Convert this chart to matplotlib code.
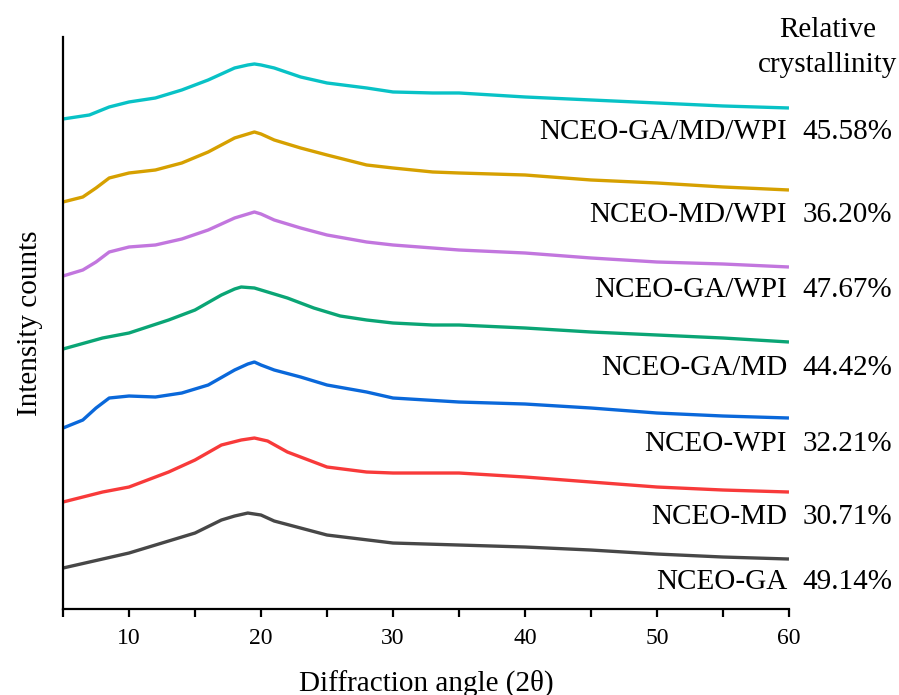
import numpy as np
import matplotlib
matplotlib.use("Agg")
import matplotlib.pyplot as plt
from matplotlib.ticker import MultipleLocator

plt.rcParams["font.family"] = ["Liberation Serif", "DejaVu Serif"]

# values (offset intensity, arbitrary units)
ga_x = [5, 10, 15, 17, 18, 19, 20, 21, 25, 30, 35, 40, 45, 50, 55, 60]
ga_y = [41, 56, 76, 89, 93, 96, 94, 88, 74, 66, 64, 62, 59, 55, 52, 50]

md_x = [5, 8, 10, 13, 15, 17, 18.5, 19.5, 20.5, 22, 25, 28, 30, 35, 40, 45, 50, 55, 60]
md_y = [107, 117, 122, 137, 149, 164, 169, 171, 168, 157, 142, 137, 136, 136, 132, 127, 122, 119, 117]

wpi_x = [5, 6.5, 7.5, 8.5, 10, 12, 14, 16, 18, 19, 19.5, 20, 21, 23, 25, 28, 30, 35, 40, 45, 50, 55, 60]
wpi_y = [181, 189, 201, 211, 213, 212, 216, 224, 239, 245, 247, 244, 239, 232, 224, 217, 211, 207, 205, 201, 196, 193, 191]

gamd_x = [5, 8, 10, 13, 15, 17, 18, 18.5, 19.5, 20, 22, 24, 26, 28, 30, 33, 35, 40, 45, 50, 55, 60]
gamd_y = [260, 271, 276, 289, 299, 314, 320, 322, 321, 319, 311, 301, 293, 289, 286, 284, 284, 281, 277, 274, 271, 267]

gawpi_x = [5, 6.5, 7.5, 8.5, 10, 12, 14, 16, 18, 19, 19.5, 20, 21, 23, 25, 28, 30, 33, 35, 40, 45, 50, 55, 60]
gawpi_y = [333, 339, 347, 357, 362, 364, 370, 379, 391, 395, 397, 395, 389, 381, 374, 367, 364, 361, 359, 356, 351, 347, 345, 342]

mdwpi_x = [5, 6.5, 7.5, 8.5, 10, 12, 14, 16, 18, 19, 19.5, 20, 21, 23, 25, 28, 30, 33, 35, 40, 45, 50, 55, 60]
mdwpi_y = [407, 412, 421, 431, 436, 439, 446, 457, 471, 475, 477, 475, 469, 461, 454, 444, 441, 437, 436, 434, 429, 426, 422, 419]

all_x = [5, 7, 8.5, 10, 12, 14, 16, 18, 19, 19.5, 20, 21, 23, 25, 28, 30, 33, 35, 40, 45, 50, 55, 60]
all_y = [490, 494, 502, 507, 511, 519, 529, 541, 544, 545, 544, 541, 532, 526, 521, 517, 516, 516, 512, 509, 506, 503, 501]

names = ["NCEO-GA", "NCEO-MD", "NCEO-WPI", "NCEO-GA/MD",
         "NCEO-GA/WPI", "NCEO-MD/WPI", "NCEO-GA/MD/WPI"]
crystallinity = ["49.14%", "30.71%", "32.21%", "44.42%", "47.67%", "36.20%", "45.58%"]
colors = ["#474747", "#F83A3A", "#0A68DA", "#0AA575", "#C276DE", "#D6A000", "#08C2C6"]
label_y = [27, 92, 165, 241, 319, 394, 477]

curves = [(ga_x, ga_y), (md_x, md_y), (wpi_x, wpi_y), (gamd_x, gamd_y),
          (gawpi_x, gawpi_y), (mdwpi_x, mdwpi_y), (all_x, all_y)]

fig = plt.figure(figsize=(8.99, 6.95), dpi=100)
ax = fig.add_axes([0.0701, 0.1237, 0.8075, 0.8231])

for (x, y), c in zip(curves, colors):
    ax.plot(x, y, color=c, lw=2.4, solid_joinstyle="round", solid_capstyle="butt")

for name, pct, yl in zip(names, crystallinity, label_y):
    ax.text(59.85, yl, name, ha="right", va="center", fontsize=21, clip_on=False)
    ax.text(61.0, yl, pct, ha="left", va="center", fontsize=21, clip_on=False)

ax.text(62.9, 579, "Relative", ha="center", va="center", fontsize=21, clip_on=False)
ax.text(62.9, 544, "crystallinity", ha="center", va="center", fontsize=21, clip_on=False)

ax.set_xlim(5, 60)
ax.set_ylim(0, 572)
ax.xaxis.set_major_locator(MultipleLocator(10))
ax.xaxis.set_minor_locator(MultipleLocator(5))
ax.set_xticks([10, 20, 30, 40, 50, 60])
ax.set_yticks([])
ax.spines["top"].set_visible(False)
ax.spines["right"].set_visible(False)
ax.spines["left"].set_linewidth(1.6)
ax.spines["bottom"].set_linewidth(1.6)
ax.tick_params(axis="x", which="both", direction="out", length=5.5, width=1.6,
               labelsize=17, pad=8)

fig.text(426 / 899, 1 - 683 / 695, "Diffraction angle (2θ)", ha="center",
         va="center", fontsize=21)
fig.text(30 / 899, 1 - 323 / 695, "Intensity counts", ha="center", va="center",
         rotation=90, fontsize=21)

fig.savefig("out.png", dpi=100)
